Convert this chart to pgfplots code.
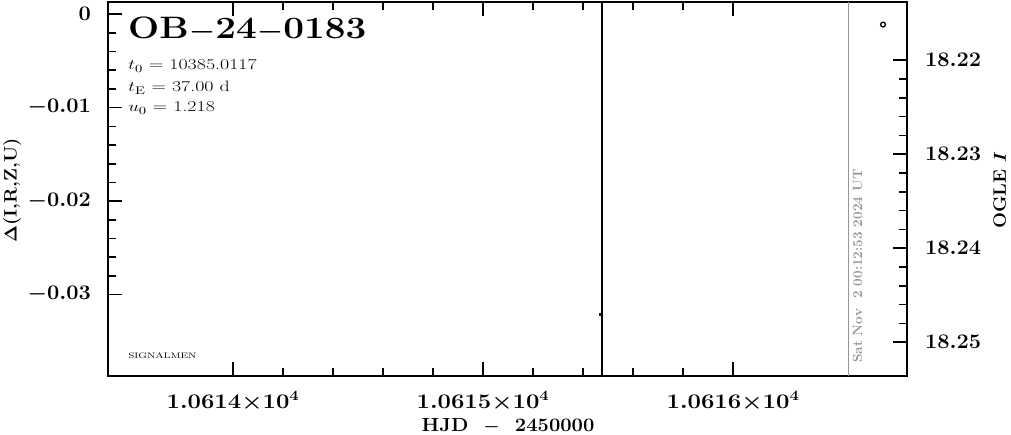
\documentclass[border=0pt]{standalone}
\usepackage{pgfplots}
\pgfplotsset{compat=1.18}
\definecolor{stampgray}{RGB}{150,150,150}
\newcommand\tlf{\fontsize{20}{24}\selectfont\bfseries\boldmath}
\newcommand\lbf{\fontsize{18}{22}\selectfont\bfseries\boldmath}
\begin{document}
\begin{tikzpicture}[x=1pt,y=1pt]
\path[use as bounding box] (-108,-58) rectangle (903,376);
\begin{axis}[
  at={(0,0)}, anchor=south west, scale only axis,
  width=799pt, height=374pt,
  xmin=10613.5, xmax=10616.696,
  ymin=-0.0387, ymax=0.0013,
  scaled ticks=false,
  xtick={10614,10615,10616},
  xticklabels={$1.0614{\times}10^4$,$1.0615{\times}10^4$,$1.0616{\times}10^4$},
  ytick={0,-0.01,-0.02,-0.03},
  yticklabels={$0$,$-0.01$,$-0.02$,$-0.03$},
  minor x tick num=4, minor y tick num=4,
  xtick pos=both, ytick pos=left,
  tick align=inside,
  major tick length=14pt, minor tick length=8pt,
  axis line style={line width=1.6pt},
  every tick/.style={line width=1.6pt, black},
  tick label style={font=\tlf, inner sep=0pt},
  yticklabel style={anchor=east, xshift=-17pt, xscale=1.05},
  xticklabel style={anchor=north, yshift=-15pt, xscale=1.15},
  ylabel={$\Delta$(I,R,Z,U)},
  ylabel style={font=\lbf, at={(axis description cs:-0.120,0.497)}, anchor=center, xscale=1.05},
  xlabel={HJD\ \ $-$\ \ 2450000},
  xlabel style={font=\fontsize{19}{22}\selectfont\bfseries\boldmath, at={(axis description cs:0.5006,-0.133)}, anchor=center, xscale=1.06},
  clip=false,
]
\addplot[only marks, mark=square*, mark size=0.9pt] coordinates {(10615.468,-0.0321)};
\end{axis}
\begin{axis}[
  at={(0,0)}, anchor=south west, scale only axis,
  width=799pt, height=374pt,
  xmin=10613.5, xmax=10616.696,
  ymin=18.2138, ymax=18.2536, y dir=reverse,
  scaled ticks=false,
  hide x axis, axis y line*=right,
  ytick={18.22,18.23,18.24,18.25},
  yticklabels={$18.22$,$18.23$,$18.24$,$18.25$},
  minor y tick num=4,
  tick align=inside,
  major tick length=14pt, minor tick length=8pt,
  axis line style={line width=1.6pt},
  every tick/.style={line width=1.6pt, black},
  tick label style={font=\tlf, inner sep=0pt},
  yticklabel style={anchor=west, xshift=18pt, xscale=1.05},
  ylabel={OGLE $I$},
  ylabel style={font=\lbf, at={(axis description cs:1.116,0.497)}, anchor=center, xscale=1.05},
  clip=false,
]
\addplot[line width=1.8pt, black] coordinates {(10615.475,18.2138) (10615.475,18.2536)};
\addplot[line width=1pt, stampgray] coordinates {(10616.461,18.2138) (10616.461,18.2536)};
\addplot[only marks, mark=o, mark size=2.4pt, line width=1.3pt] coordinates {(10616.60,18.2162)};
\end{axis}
\node[anchor=base west, font=\fontsize{31}{36}\selectfont\bfseries\boldmath, xscale=1.19, inner sep=0pt] at (20,337) {OB$-$24$-$0183};
\node[anchor=base west, font=\fontsize{15}{18}\selectfont, xscale=1.33, inner sep=0pt] at (20,306) {$t_0$ = 10385.0117};
\node[anchor=base west, font=\fontsize{15}{18}\selectfont, xscale=1.33, inner sep=0pt] at (20,284) {$t_{\rm E}$ = 37.00 d};
\node[anchor=base west, font=\fontsize{15}{18}\selectfont, xscale=1.33, inner sep=0pt] at (20,264) {$u_0$ = 1.218};
\node[anchor=base west, font=\fontsize{8}{10}\selectfont, xscale=1.3, inner sep=0pt] at (20,18) {SIGNALMEN};
\node[rotate=90, anchor=base west, font=\fontsize{13.5}{16}\selectfont\bfseries, text=stampgray, inner sep=0pt] at (754,13) {Sat Nov\ \ 2 00:12:53 2024 UT};
\end{tikzpicture}
\end{document}
